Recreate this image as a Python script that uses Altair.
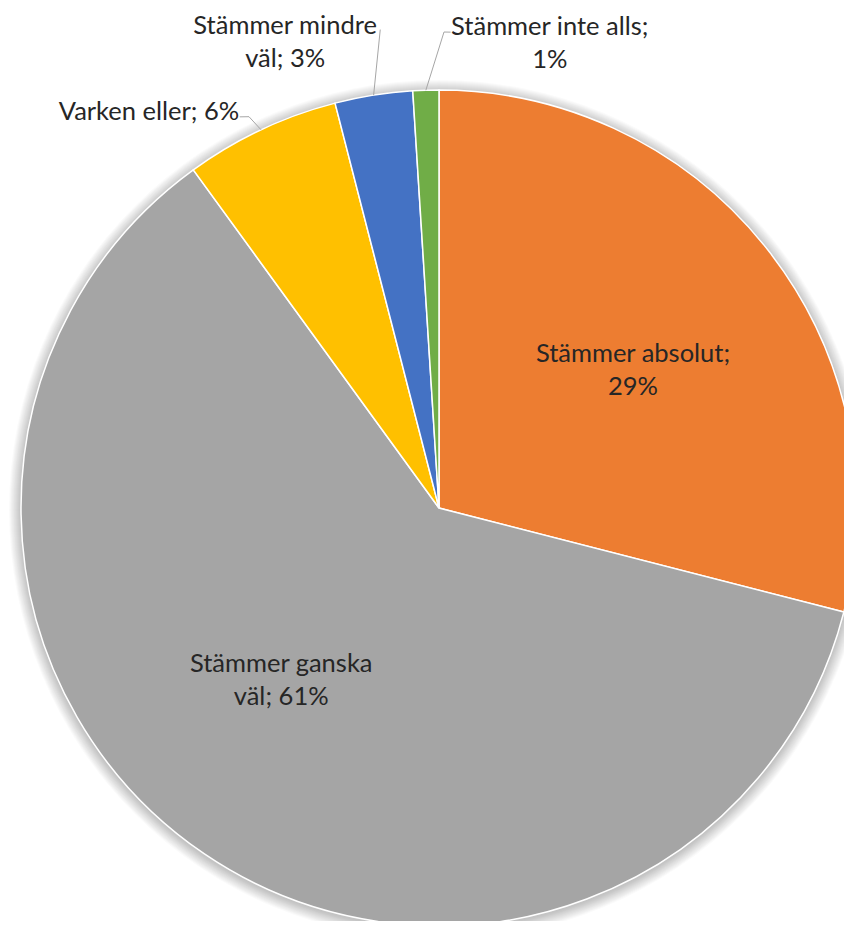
import altair as alt
import pandas as pd
import numpy as np

# ---- data -------------------------------------------------------------
categories = ["Stämmer absolut", "Stämmer ganska väl", "Varken eller",
              "Stämmer mindre väl", "Stämmer inte alls"]
values = [29, 61, 6, 3, 1]
colors = ["#ED7D31", "#A5A5A5", "#FFC000", "#4472C4", "#70AD47"]
label_text = [
    f"Stämmer absolut;\n{values[0]}%",
    f"Stämmer ganska\nväl; {values[1]}%",
    f"Varken eller; {values[2]}%",
    f"Stämmer mindre\nväl; {values[3]}%",
    f"Stämmer inte alls;\n{values[4]}%",
]

# ---- annotation placement (label nudges from slice midpoints) --------
label_nudge_deg = [2.4, 8.2, -11.0, -9.3, 15.2]
label_dist = [238, 234, 491, 490, 478]
# leader line bends (polar, relative to centre) for outside labels, then slice midpoint at rim
leader_cats = [2, 3, 4]
leader_bends = {2: [(333.0, 439), (334.1, 435)],
                3: [(353.0, 482)],
                4: [(1.4, 476), (0.6, 476)]}

W, H = 836, 913
CX, CY, R = 431, 500, 418
LINE_H = 33

total = sum(values)
cum = np.cumsum([0] + values)
mid_deg = [(cum[i] + values[i] / 2) / total * 360 for i in range(len(values))]


def polar(deg, r):
    a = np.deg2rad(deg)
    return CX + r * np.sin(a), CY - r * np.cos(a)


df = pd.DataFrame({"cat": categories, "value": values, "idx": range(len(values))})

# labels (multi-line blocks centred on their anchor)
lx, ly = [], []
for i in range(len(values)):
    x, y = polar(mid_deg[i] + label_nudge_deg[i], label_dist[i])
    n_lines = label_text[i].count("\n") + 1
    lx.append(x)
    ly.append(y - (n_lines - 1) * LINE_H / 2)
lab = pd.DataFrame({"text": label_text, "x": lx, "y": ly})

# leader lines
rows = []
for c in leader_cats:
    pts = leader_bends[c] + [(mid_deg[c], R)]
    for k, (d, r) in enumerate(pts):
        x, y = polar(d, r)
        rows.append({"grp": c, "k": k, "x": x, "y": y})
lead = pd.DataFrame(rows)

# soft glow shadow around the pie
shadow_layers = []
for k in range(1, 13):
    shadow_layers.append(
        alt.Chart(df.head(1)).mark_arc(theta=0, theta2=2 * np.pi, radius=R + k,
                                       color="#000000", opacity=0.018, clip=True)
        .encode(x=alt.value(CX), y=alt.value(CY + 2))
    )

pie = alt.Chart(df).mark_arc(radius=R, stroke="white", strokeWidth=1.5, clip=True).encode(
    theta=alt.Theta("value:Q", stack=True),
    color=alt.Color("cat:N", scale=alt.Scale(domain=categories, range=colors), legend=None),
    order=alt.Order("idx:Q"),
    x=alt.value(CX),
    y=alt.value(CY),
)

leaders = alt.Chart(lead).mark_line(color="#A6A6A6", strokeWidth=1).encode(
    x=alt.X("x:Q", scale=None, axis=None),
    y=alt.Y("y:Q", scale=None, axis=None),
    detail="grp:N",
    order="k:Q",
)

text = alt.Chart(lab).mark_text(
    font="Lato", fontSize=25.5, lineBreak="\n", lineHeight=LINE_H,
    color="#262626", align="center", baseline="middle",
).encode(
    x=alt.X("x:Q", scale=None, axis=None),
    y=alt.Y("y:Q", scale=None, axis=None),
    text="text:N",
)

chart = alt.layer(*shadow_layers, pie, leaders, text).properties(
    width=W, height=H, padding=0, background="white"
).configure_view(stroke=None)

chart.save("out.html", embed_options={"renderer": "svg", "actions": False})
